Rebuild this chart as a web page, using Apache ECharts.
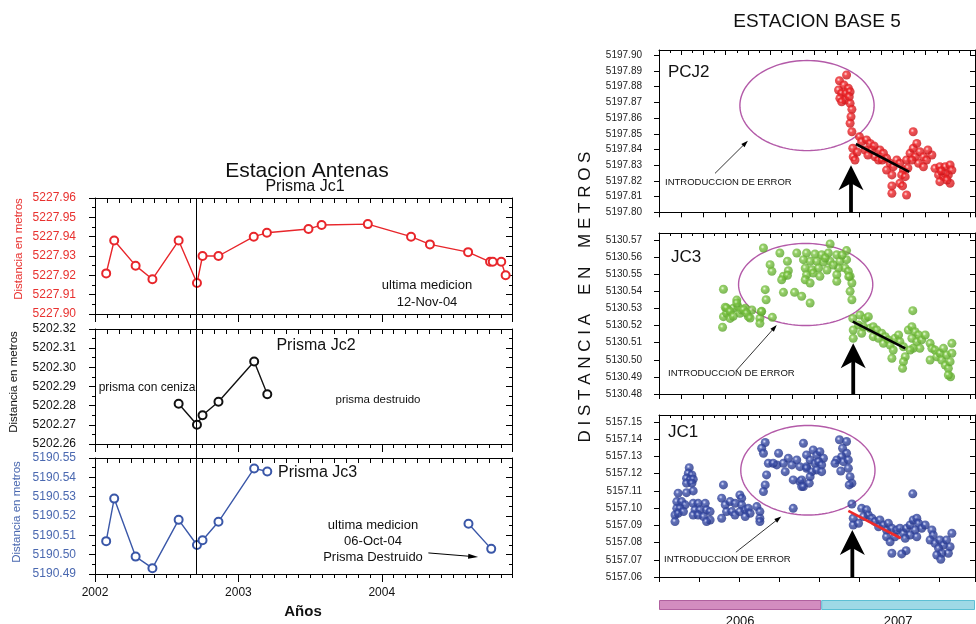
<!DOCTYPE html>
<html><head><meta charset="utf-8">
<script src="https://cdn.jsdelivr.net/npm/echarts@6/dist/echarts.min.js"></script>
<style>html,body{margin:0;padding:0;background:#fff}#c{width:976px;height:624px}</style>
</head><body><div id="c"></div>
<script>
// ---------------- DATA: left chart (Estacion Antenas) ----------------
const yearLabels = ['2002', '2003', '2004'];
const jc1Dates = ['2002-01-30','2002-02-18','2002-04-13','2002-05-26','2002-08-01','2002-09-17','2002-10-01','2002-11-11','2003-02-09','2003-03-13','2003-06-27','2003-07-31','2003-11-26','2004-03-15','2004-05-02','2004-08-08','2004-10-03','2004-10-10','2004-11-01','2004-11-12'];
const jc1Values = [5227.921,5227.938,5227.925,5227.918,5227.938,5227.916,5227.930,5227.930,5227.940,5227.942,5227.944,5227.946,5227.9465,5227.940,5227.936,5227.932,5227.927,5227.927,5227.927,5227.920];
const jc2Dates = ['2002-08-01','2002-09-17','2002-10-01','2002-11-11','2003-02-10','2003-03-14'];
const jc2Values = [5202.281,5202.270,5202.275,5202.282,5202.303,5202.286];
const jc3Dates = ['2002-01-30','2002-02-18','2002-04-13','2002-05-26','2002-08-01','2002-09-17','2002-10-01','2002-11-11','2003-02-10','2003-03-14',null,'2004-08-09','2004-10-06'];
const jc3Values = [5190.507,5190.529,5190.499,5190.493,5190.518,5190.505,5190.5075,5190.517,5190.5446,5190.543,null,5190.516,5190.503];
const ashLineDate = '2002-09-14';
const jc3ArrowFrom = ['2004-04-28', 5190.5009];
const jc3ArrowTo = ['2004-09-03', 5190.4988];

// ---------------- DATA: right chart (Estacion Base 5), x = days since 2006-01-01 ----------------
const yearBarNames = ['2006', '2007'];
const yearBarDays = [365, 346];
const pcj2Points = [[422,5197.8875],[406,5197.8838],[416,5197.8811],[426,5197.8790],[404,5197.8779],[411,5197.8758],[421,5197.8758],[430,5197.8768],[407,5197.8726],[419,5197.8715],[428,5197.8736],[411,5197.8704],[430,5197.8694],[434,5197.8656],[432,5197.8609],[430,5197.8567],[434,5197.8513],
[436,5197.8408],[437,5197.8354],[441,5197.8333],[451,5197.8482],[456,5197.8450],[467,5197.8461],[475,5197.8439],[464,5197.8397],[479,5197.8397],[486,5197.8354],[497,5197.8397],[505,5197.8376],[494,5197.8333],[512,5197.8344],[520,5197.8312],[512,5197.8269],[527,5197.8290],[535,5197.8333],[542,5197.8312],[550,5197.8269],[524,5197.8238],[546,5197.8238],[554,5197.8227],[542,5197.8185],[557,5197.8333],[565,5197.8376],[572,5197.8408],[580,5197.8439],[576,5197.8354],[587,5197.8386],[595,5197.8354],[584,5197.8312],[595,5197.8290],[602,5197.8333],[614,5197.8365],[572,5197.8513],[621,5197.8280],[632,5197.8290],[644,5197.8290],[655,5197.8301],[659,5197.8269],[629,5197.8238],[640,5197.8227],[651,5197.8238],[632,5197.8195],[655,5197.8185],[644,5197.8248],[524,5197.8168],[524,5197.8121],[548,5197.8168],[557,5197.8110],
[446,5197.8384],[470,5197.8365],[484,5197.8423],[502,5197.8333],[560,5197.8282],[569,5197.8333],[605,5197.8397],[635,5197.8263],[648,5197.8206]];
const jc3Points = [[145,5130.5412],[143,5130.5190],[149,5130.5307],[156,5130.5291],[145,5130.5252],[152,5130.5272],[160,5130.5242],[167,5130.5301],[175,5130.5349],[178,5130.5310],[182,5130.5272],[186,5130.5291],[194,5130.5301],[201,5130.5252],[209,5130.5291],[230,5130.5281],[227,5130.5242],[227,5130.5213],[255,5130.5248],[152,5130.5303],[160,5130.5283],[167,5130.5254],[190,5130.5293],[197,5130.5273],[205,5130.5244],[231,5130.5283],[175,5130.5332],
[235,5130.5653],[272,5130.5624],[310,5130.5624],[289,5130.5576],[250,5130.5556],[254,5130.5517],[291,5130.5521],[280,5130.5488],[289,5130.5494],[276,5130.5468],[239,5130.5410],[241,5130.5351],[280,5130.5394],[305,5130.5394],[321,5130.5371],[340,5130.5332],
[332,5130.5624],[351,5130.5618],[366,5130.5614],[381,5130.5624],[385,5130.5677],[400,5130.5614],[422,5130.5638],[325,5130.5585],[340,5130.5576],[355,5130.5576],[370,5130.5571],[385,5130.5576],[407,5130.5576],[422,5130.5585],[329,5130.5536],[344,5130.5526],[359,5130.5536],[404,5130.5536],[419,5130.5536],[426,5130.5517],[332,5130.5497],[347,5130.5507],[362,5130.5488],[400,5130.5497],[329,5130.5468],[340,5130.5449],[400,5130.5459],[430,5130.5488],[434,5130.5449],[430,5130.5400],[434,5130.5351],[427,5130.5486],[374,5130.5595],[392,5130.5554],[412,5130.5612],[378,5130.5525],
[436,5130.5242],[437,5130.5174],[437,5130.5126],[452,5130.5262],[464,5130.5242],[471,5130.5252],[449,5130.5203],[460,5130.5193],[456,5130.5155],[475,5130.5184],[482,5130.5193],[490,5130.5174],[482,5130.5135],[494,5130.5126],[501,5130.5155],[509,5130.5135],[505,5130.5096],[516,5130.5116],[520,5130.5086],[527,5130.5057],[524,5130.5009],[531,5130.5126],[539,5130.5145],[542,5130.5106],[550,5130.5076],[554,5130.5018],[550,5130.4989],[548,5130.4950],[561,5130.5174],[569,5130.5193],[576,5130.5164],[584,5130.5145],[569,5130.5126],[580,5130.5106],[591,5130.5116],[599,5130.5145],[572,5130.5067],[587,5130.5067],[565,5130.5057],[571,5130.5287],[610,5130.5096],[614,5130.5067],[610,5130.4999],[621,5130.5057],[625,5130.5018],[632,5130.5038],[636,5130.4999],[640,5130.5067],[647,5130.5028],[644,5130.4969],[651,5130.4950],[659,5130.5096],[659,5130.5038],[655,5130.4989],[656,5130.4901],[651,5130.4911]];
const jc1Points = [[68,5157.1235],[66,5157.1203],[74,5157.1193],[62,5157.1174],[70,5157.1164],[77,5157.1168],[62,5157.1145],[74,5157.1145],[43,5157.1087],[62,5157.1090],[77,5157.1100],[40,5157.1038],[51,5157.1038],[59,5157.1019],[40,5157.0999],[47,5157.0999],[36,5157.0960],[43,5157.0970],[55,5157.0980],[36,5157.0922],
[77,5157.1028],[88,5157.1028],[104,5157.1028],[81,5157.0990],[92,5157.0990],[107,5157.0990],[77,5157.0960],[88,5157.0960],[100,5157.0951],[115,5157.0980],[115,5157.0931],[107,5157.0922],
[145,5157.1135],[141,5157.1058],[149,5157.1019],[160,5157.1038],[171,5157.1028],[182,5157.1077],[186,5157.1058],[186,5157.1019],[141,5157.0941],[152,5157.0980],[164,5157.0980],[171,5157.0960],[182,5157.0980],[194,5157.0990],[201,5157.0999],[205,5157.0970],[194,5157.0951],[220,5157.1009],[227,5157.0980],[227,5157.0941],[227,5157.0922],
[239,5157.1381],[231,5157.1348],[235,5157.1319],[269,5157.1319],[265,5157.1251],[246,5157.1261],[257,5157.1261],[280,5157.1261],[291,5157.1290],[299,5157.1251],[284,5157.1212],[310,5157.1280],[325,5157.1377],[317,5157.1241],[332,5157.1241],[242,5157.1193],[239,5157.1135],[235,5157.1096],[302,5157.1164],[317,5157.1154],[321,5157.1125],[302,5157.0999],
[332,5157.1309],[347,5157.1338],[355,5157.1309],[362,5157.1328],[370,5157.1290],[340,5157.1280],[351,5157.1261],[359,5157.1270],[366,5157.1251],[332,5157.1232],[344,5157.1212],[355,5157.1222],[366,5157.1212],[340,5157.1183],[321,5157.1164],[325,5157.1125],[338,5157.1145],
[406,5157.1397],[422,5157.1387],[413,5157.1348],[422,5157.1319],[411,5157.1299],[400,5157.1280],[415,5157.1270],[426,5157.1280],[396,5157.1261],[409,5157.1216],[426,5157.1232],[430,5157.1183],[434,5157.1145],[428,5157.1135],
[434,5157.1024],[437,5157.0941],[437,5157.0902],[449,5157.0912],[456,5157.0999],[467,5157.0990],[471,5157.0960],[460,5157.0951],[479,5157.0941],[486,5157.0922],[497,5157.0931],[494,5157.0892],[505,5157.0902],[512,5157.0873],[516,5157.0912],[524,5157.0883],[512,5157.0834],[520,5157.0805],[531,5157.0834],[535,5157.0873],[542,5157.0883],[550,5157.0854],[557,5157.0883],[565,5157.0902],[572,5157.0931],[580,5157.0941],[584,5157.0912],[591,5157.0883],[599,5157.0902],[576,5157.0873],[565,5157.0844],[580,5157.0834],[554,5157.0825],[524,5157.0738],[556,5157.0753],[546,5157.0734],[571,5157.1083],[614,5157.0873],[617,5157.0844],[610,5157.0815],[621,5157.0796],[632,5157.0815],[640,5157.0786],[629,5157.0767],[647,5157.0815],[659,5157.0854],[655,5157.0776],[651,5157.0738],[636,5157.0738],[625,5157.0728],[634,5157.0703]];
// annotations: ellipse [centerDay, centerValue, radiusDays, radiusValue]
const pcj2Ellipse = [333, 5197.868, 151, 0.0287];
const jc3Ellipse = [330, 5130.544, 151, 0.0240];
const jc1Ellipse = [335, 5157.122, 151, 0.0260];
const pcj2Trend = [[443, 5197.8435], [563, 5197.8257]];
const jc3Trend = [[436, 5130.5223], [554, 5130.5067]];
const jc1Trend = [[426, 5157.0984], [544, 5157.0825]];
const pcj2ArrowTip = [432, 5197.830];
const jc3ArrowTip = [437, 5130.5096];
const jc1ArrowTip = [435, 5157.0873];
const pcj2NoteArrow = [126, 5197.8248, 200, 5197.8456];
const jc3NoteArrow = [175, 5130.4940, 265, 5130.5203];
const jc1NoteArrow = [173, 5157.0744, 275, 5157.0951];

// ---------------- helpers ----------------
const FONT = '"Liberation Sans", Arial, Helvetica, sans-serif';
const BLACK = '#000';
const RED = '#e8262b';
const BLUE = '#3a57a8';
function monthIndex(s) {
  const p = s.split('-').map(Number);
  const dim = new Date(Date.UTC(p[0], p[1], 0)).getUTCDate();
  return (p[0] - 2002) * 12 + (p[1] - 1) + (p[2] - 1) / dim;
}
const LEFT_XMAX = 34.9;
const RIGHT_XMAX = 711;

const grids = [], xAxes = [], yAxes = [], series = [];
const line = {show: true, onZero: false, lineStyle: {color: BLACK, width: 1}};
const tickStyle = {color: BLACK, width: 1};

// ---------------- left chart axes ----------------
const leftPanels = [
  {top: 198, height: 116, min: 5227.90, max: 5227.96, color: '#e8312f'},
  {top: 329, height: 115, min: 5202.26, max: 5202.32, color: '#111'},
  {top: 458, height: 116, min: 5190.49, max: 5190.55, color: '#4a68b0'}
];
leftPanels.forEach((p, i) => {
  grids.push({left: 95, width: 417, top: p.top, height: p.height, outerBoundsMode: 'none'});
  xAxes.push({gridIndex: i, type: 'value', position: 'bottom', min: 0, max: LEFT_XMAX, interval: 12,
    axisLine: line, splitLine: {show: false},
    axisTick: {show: true, length: 8, lineStyle: tickStyle},
    axisLabel: i === 2 ? {show: true, margin: 13, fontSize: 12, color: '#111', fontFamily: FONT, showMaxLabel: false,
      formatter: v => yearLabels[Math.round(v / 12)] || ''} : {show: false}});
  xAxes.push({gridIndex: i, type: 'value', position: 'bottom', min: 0, max: LEFT_XMAX, interval: 1,
    axisLine: {show: false, onZero: false}, splitLine: {show: false},
    axisTick: {show: true, length: 4, lineStyle: tickStyle}, axisLabel: {show: false}});
  xAxes.push({gridIndex: i, type: 'value', position: 'top', min: 0, max: LEFT_XMAX, interval: 1,
    axisLine: line, splitLine: {show: false},
    axisTick: {show: true, inside: true, length: 5, lineStyle: tickStyle}, axisLabel: {show: false}});
  yAxes.push({gridIndex: i, type: 'value', position: 'left', min: p.min, max: p.max, interval: 0.01,
    axisLine: line, splitLine: {show: false}, minorSplitLine: {show: false},
    axisTick: {show: true, length: 6, lineStyle: tickStyle},
    minorTick: {show: true, splitNumber: 2, length: 3, lineStyle: tickStyle},
    axisLabel: {margin: 19, fontSize: 12, color: p.color, fontFamily: FONT, formatter: v => v.toFixed(2)}});
  yAxes.push({gridIndex: i, type: 'value', position: 'right', min: p.min, max: p.max, interval: 0.01,
    axisLine: line, splitLine: {show: false}, minorSplitLine: {show: false},
    axisTick: {show: true, inside: true, length: 6, lineStyle: tickStyle},
    minorTick: {show: true, splitNumber: 2, length: 3, lineStyle: tickStyle},
    axisLabel: {show: false}});
});

function lineSeries(dates, values, color, xi, yi) {
  return {type: 'line', xAxisIndex: xi, yAxisIndex: yi, connectNulls: false,
    data: dates.map((d, k) => d === null ? ['-', '-'] : [monthIndex(d), values[k]]),
    symbol: 'emptyCircle', symbolSize: 8, showAllSymbol: true,
    lineStyle: {color: color, width: 1.4}, itemStyle: {color: color, borderColor: color, borderWidth: 1.2}, z: 3};
}
series.push(lineSeries(jc1Dates, jc1Values, RED, 0, 0));
series.push(lineSeries(jc2Dates, jc2Values, '#111', 3, 2));
series.push(lineSeries(jc3Dates, jc3Values, BLUE, 6, 4));

function noteArrow(headLen, headHalf, width) {
  return function (params, api) {
    const a = api.coord([api.value(0), api.value(1)]);
    const b = api.coord([api.value(2), api.value(3)]);
    const ang = Math.atan2(b[1] - a[1], b[0] - a[0]);
    const ux = Math.cos(ang), uy = Math.sin(ang);
    const bx = b[0] - ux * headLen, by = b[1] - uy * headLen;
    return {type: 'group', children: [
      {type: 'line', shape: {x1: a[0], y1: a[1], x2: bx + ux, y2: by + uy}, style: {stroke: BLACK, lineWidth: width}},
      {type: 'polygon', shape: {points: [[b[0], b[1]], [bx - uy * headHalf, by + ux * headHalf], [bx + uy * headHalf, by - ux * headHalf]]}, style: {fill: BLACK}}
    ]};
  };
}
series.push({type: 'custom', xAxisIndex: 6, yAxisIndex: 4, z: 6,
  data: [[monthIndex(jc3ArrowFrom[0]), jc3ArrowFrom[1], monthIndex(jc3ArrowTo[0]), jc3ArrowTo[1]]],
  renderItem: noteArrow(10, 2.5, 1)});

// ---------------- right chart axes ----------------
const rightPanels = [
  {top: 50, height: 162.3, min: 5197.80, max: 5197.9034, bottomTick: 50},
  {top: 233, height: 161, min: 5130.48, max: 5130.5741, bottomTick: 50},
  {top: 415, height: 162, min: 5157.06, max: 5157.1541, bottomTick: 90}
];
rightPanels.forEach((p, j) => {
  const g = 3 + j;
  grids.push({left: 659, width: 316, top: p.top, height: p.height, outerBoundsMode: 'none'});
  xAxes.push({gridIndex: g, type: 'value', position: 'bottom', min: 0, max: RIGHT_XMAX, interval: p.bottomTick,
    axisLine: line, splitLine: {show: false},
    axisTick: {show: true, length: 5, lineStyle: tickStyle}, axisLabel: {show: false}});
  xAxes.push({gridIndex: g, type: 'value', position: 'top', min: 0, max: RIGHT_XMAX, interval: 50,
    axisLine: line, splitLine: {show: false}, minorSplitLine: {show: false},
    axisTick: {show: true, inside: true, length: 5, lineStyle: tickStyle},
    minorTick: {show: true, splitNumber: 2, length: 3, lineStyle: tickStyle}, axisLabel: {show: false}});
  yAxes.push({gridIndex: g, type: 'value', position: 'left', min: p.min, max: p.max, interval: 0.01,
    axisLine: line, splitLine: {show: false},
    axisTick: {show: true, length: 5, lineStyle: tickStyle},
    axisLabel: {margin: 17, fontSize: 10, color: '#222', fontFamily: FONT, showMaxLabel: false, formatter: v => v.toFixed(2)}});
  yAxes.push({gridIndex: g, type: 'value', position: 'right', min: p.min, max: p.max, interval: 0.01,
    axisLine: line, splitLine: {show: false},
    axisTick: {show: true, inside: true, length: 5, lineStyle: tickStyle}, axisLabel: {show: false}});
});
// year bar grid
grids.push({left: 659, width: 316, top: 600, height: 10, outerBoundsMode: 'none'});
xAxes.push({gridIndex: 6, type: 'value', min: 0, max: RIGHT_XMAX, show: false});
yAxes.push({gridIndex: 6, type: 'category', data: ['periodo'], show: false});

function sphere(c0, c1, c2) {
  return {type: 'radial', x: 0.4, y: 0.38, r: 0.68, colorStops: [
    {offset: 0, color: c0}, {offset: 0.3, color: c1}, {offset: 1, color: c2}]};
}
function ellipseItem(params, api) {
  const c = api.coord([api.value(0), api.value(1)]);
  const s = api.size([api.value(2), api.value(3)]);
  const pts = [];
  for (let k = 0; k <= 120; k++) {
    const a = k / 120 * Math.PI * 2;
    pts.push([c[0] + s[0] * Math.cos(a), c[1] + s[1] * Math.sin(a)]);
  }
  return {type: 'polyline', shape: {points: pts}, style: {stroke: '#b35aa8', lineWidth: 1.4, fill: null}};
}
function bigArrowItem(baseValue) {
  return function (params, api) {
    const tip = api.coord([api.value(0), api.value(1)]);
    const base = api.coord([api.value(0), baseValue]);
    const hw = 12.5, hh = 25, notch = 18, sw = 1.9;
    return {type: 'group', children: [
      {type: 'rect', shape: {x: tip[0] - sw, y: tip[1] + notch - 2, width: sw * 2, height: base[1] - tip[1] - notch + 2}, style: {fill: BLACK}},
      {type: 'polygon', shape: {points: [[tip[0], tip[1]], [tip[0] + hw, tip[1] + hh], [tip[0], tip[1] + notch], [tip[0] - hw, tip[1] + hh]]}, style: {fill: BLACK}}
    ]};
  };
}
const rightSets = [
  {pts: pcj2Points, ell: pcj2Ellipse, trend: pcj2Trend, tip: pcj2ArrowTip, note: pcj2NoteArrow, trendColor: BLACK,
    color: sphere('#ffd8d8', '#f0262a', '#c01015')},
  {pts: jc3Points, ell: jc3Ellipse, trend: jc3Trend, tip: jc3ArrowTip, note: jc3NoteArrow, trendColor: BLACK,
    color: sphere('#eaffdc', '#7cc443', '#57a02a')},
  {pts: jc1Points, ell: jc1Ellipse, trend: jc1Trend, tip: jc1ArrowTip, note: jc1NoteArrow, trendColor: '#ee2a2a',
    color: sphere('#d8deff', '#3a4ea8', '#223182')}
];
rightSets.forEach((s, j) => {
  const xi = 9 + 2 * j, yi = 6 + 2 * j;
  series.push({type: 'custom', xAxisIndex: xi, yAxisIndex: yi, z: 2, data: [s.ell], renderItem: ellipseItem});
  series.push({type: 'scatter', xAxisIndex: xi, yAxisIndex: yi, z: 3, data: s.pts, symbol: 'circle', symbolSize: 9,
    itemStyle: {color: s.color}});
  series.push({type: 'line', xAxisIndex: xi, yAxisIndex: yi, z: 4, data: s.trend, symbol: 'none',
    lineStyle: {color: s.trendColor, width: 2.6}});
  series.push({type: 'custom', xAxisIndex: xi, yAxisIndex: yi, z: 5, data: [s.tip], renderItem: bigArrowItem(rightPanels[j].min)});
  series.push({type: 'custom', xAxisIndex: xi, yAxisIndex: yi, z: 5, data: [s.note], renderItem: noteArrow(7, 2.3, 0.8)});
});
const barColors = [['#d38cc0', '#b0609f'], ['#9ed9e6', '#5cbfd4']];
yearBarNames.forEach((name, k) => {
  series.push({type: 'bar', xAxisIndex: 15, yAxisIndex: 12, stack: 'yr', barWidth: 10,
    data: [yearBarDays[k]],
    itemStyle: {color: barColors[k][0], borderColor: barColors[k][1], borderWidth: 1},
    label: {show: true, position: 'bottom', distance: 5, formatter: name, fontSize: 13, color: '#111', fontFamily: FONT}});
});

const chart = echarts.init(document.getElementById('c'), null, {renderer: 'canvas'});
chart.setOption({animation: false, backgroundColor: '#fff', grid: grids, xAxis: xAxes, yAxis: yAxes, series: series});

// ---------------- texts & separator line ----------------
function txt(text, x, y, size, o) {
  o = o || {};
  const al = o.align || 'center';
  return {type: 'text', x: x, y: y, rotation: o.rot || 0, z: 100,
    style: {text: text, fontSize: size, fontFamily: FONT, fontWeight: o.bold ? 'bold' : 'normal', fill: o.color || '#111',
      textAlign: al, textVerticalAlign: 'middle', align: al, verticalAlign: 'middle'}};
}
const vx = Math.round(chart.convertToPixel({xAxisIndex: 0}, monthIndex(ashLineDate))) + 0.5;
const gfx = [
  {type: 'line', z: 50, shape: {x1: vx, y1: 198, x2: vx, y2: 574}, style: {stroke: BLACK, lineWidth: 1}},
  txt('Estacion Antenas', 307, 171, 21),
  txt('Prisma Jc1', 305, 187, 16),
  txt('ultima medicion', 427, 285, 13),
  txt('12-Nov-04', 427, 302, 13),
  txt('Prisma Jc2', 316, 346, 16),
  txt('prisma con ceniza', 147, 388, 12),
  txt('prisma destruido', 378, 400, 11.5),
  txt('Prisma Jc3', 278, 473, 16, {align: 'left'}),
  txt('ultima medicion', 373, 525, 13),
  txt('06-Oct-04', 373, 541, 13),
  txt('Prisma Destruido', 373, 557, 13),
  txt('Años', 303, 612, 15, {bold: true}),
  txt('Distancia en metros', 19, 249, 11.5, {rot: Math.PI / 2, color: '#e8312f'}),
  txt('Distancia en metros', 14, 382, 11.5, {rot: Math.PI / 2, color: '#111'}),
  txt('Distancia en metros', 17, 512, 11.5, {rot: Math.PI / 2, color: '#4a68b0'}),
  txt('ESTACION BASE 5', 817, 22, 19),
  txt('PCJ2', 668, 72, 17, {align: 'left'}),
  txt('JC3', 671, 257, 17, {align: 'left'}),
  txt('JC1', 668, 432, 17, {align: 'left'}),
  txt('INTRODUCCION DE ERROR', 665, 182, 9.5, {align: 'left'}),
  txt('INTRODUCCION DE ERROR', 668, 373, 9.5, {align: 'left'}),
  txt('INTRODUCCION DE ERROR', 664, 559, 9.5, {align: 'left'}),
  txt('D I S T A N C I A    E N    M E T R O S', 585, 297, 17, {rot: Math.PI / 2})
];
chart.setOption({graphic: gfx});
</script></body></html>
